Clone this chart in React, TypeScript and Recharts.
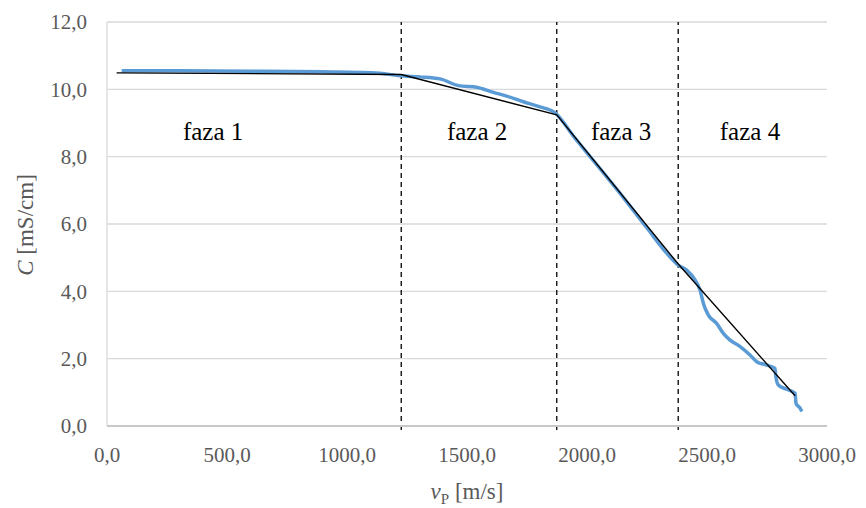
import React from 'react';
import { LineChart, Line, XAxis, YAxis, CartesianGrid, ReferenceLine, ReferenceDot } from 'recharts';

// measured curve (blue)
const measuredV = [61, 300, 600, 900, 1137, 1221, 1304, 1388, 1464, 1540, 1610, 1665, 1735, 1804, 1867, 1950, 2050, 2150, 2250, 2330, 2380, 2415, 2450, 2471, 2485, 2505, 2540, 2568, 2596, 2638, 2679, 2707, 2749, 2783, 2787, 2797, 2832, 2867, 2871, 2888, 2895];
const measuredC = [10.55, 10.55, 10.54, 10.52, 10.48, 10.4, 10.37, 10.31, 10.11, 10.06, 9.91, 9.8, 9.63, 9.48, 9.3, 8.55, 7.68, 6.8, 5.88, 5.15, 4.78, 4.63, 4.34, 4.04, 3.64, 3.3, 3.05, 2.75, 2.55, 2.36, 2.11, 1.91, 1.81, 1.71, 1.46, 1.22, 1.09, 0.97, 0.67, 0.53, 0.43];

// piecewise linear fit (black)
const fitV = [40, 1226, 1874, 2380, 2867];
const fitC = [10.49, 10.44, 9.24, 4.81, 0.9];

// phase boundaries
const boundaries = [1226, 1874, 2380];

const phaseNames = ['faza 1', 'faza 2', 'faza 3', 'faza 4'];
const phaseLabelV = [442, 1542, 2142, 2679];
const phaseLabelC = 8.76;

const xTicks = [0, 500, 1000, 1500, 2000, 2500, 3000];
const yTicks = [0, 2, 4, 6, 8, 10, 12];

const measured = measuredV.map((v, i) => ({ v, c: measuredC[i] }));
const fit = fitV.map((v, i) => ({ v, c: fitC[i] }));

const FONT = 'Liberation Serif, DejaVu Serif, Times New Roman, serif';
const GREY = '#595959';

const fmt = (n: number) => n.toFixed(1).replace('.', ',');

export default function App() {
  return (
    <div style={{ position: 'absolute', left: 0, top: 0, width: 866, height: 508, background: '#fff', fontFamily: FONT }}>
      <LineChart width={866} height={508} margin={{ top: 22, right: 39, bottom: 0, left: 0 }} style={{ fontFamily: FONT }}>
        <CartesianGrid vertical={false} stroke="#d9d9d9" strokeWidth={1.3} />
        <XAxis
          type="number"
          dataKey="v"
          domain={[0, 3000]}
          ticks={xTicks}
          tickFormatter={fmt}
          height={82}
          stroke="#c8c8c8"
          strokeWidth={2}
          tickLine={false}
          tickSize={0}
          tickMargin={21}
          tick={{ fontSize: 21, fill: GREY, style: { fontFamily: FONT } }}
          label={{
            content: () => (
              <text x={467} y={499} textAnchor="middle" style={{ fontFamily: FONT }} fontSize={23} fill={GREY}>
                <tspan fontStyle="italic">v</tspan>
                <tspan fontSize={15} dy={5}>P</tspan>
                <tspan dy={-5}>{' [m/s]'}</tspan>
              </text>
            ),
          }}
        />
        <YAxis
          type="number"
          dataKey="c"
          domain={[0, 12]}
          ticks={yTicks}
          tickFormatter={fmt}
          width={107}
          stroke="#d9d9d9"
          strokeWidth={1.3}
          tickLine={false}
          tickSize={0}
          tickMargin={20}
          tick={{ fontSize: 21, fill: GREY, style: { fontFamily: FONT } }}
          label={{
            content: () => (
              <text
                x={25}
                y={225}
                transform="rotate(-90 25 225)"
                textAnchor="middle"
                dominantBaseline="central"
                style={{ fontFamily: FONT }}
                fontSize={23}
                fill={GREY}
              >
                <tspan fontStyle="italic">C</tspan>
                <tspan>{' [mS/cm]'}</tspan>
              </text>
            ),
          }}
        />
        {boundaries.map((b) => (
          <ReferenceLine
            key={b}
            segment={[{ x: b, y: -0.12 }, { x: b, y: 12 }]}
            stroke="#000"
            strokeWidth={1.3}
            strokeDasharray="5 4"
            ifOverflow="visible"
          />
        ))}
        <Line
          data={measured}
          dataKey="c"
          type="monotone"
          stroke="#5b9bd5"
          strokeWidth={3.5}
          dot={false}
          isAnimationActive={false}
        />
        <Line
          data={fit}
          dataKey="c"
          type="linear"
          stroke="#000"
          strokeWidth={1.4}
          dot={false}
          isAnimationActive={false}
        />
        {phaseNames.map((name, i) => (
          <ReferenceDot
            key={name}
            x={phaseLabelV[i]}
            y={phaseLabelC}
            r={0}
            fill="none"
            stroke="none"
            label={{ value: name, position: 'center', fontSize: 25, fill: '#000', style: { fontFamily: FONT } }}
          />
        ))}
      </LineChart>
    </div>
  );
}
